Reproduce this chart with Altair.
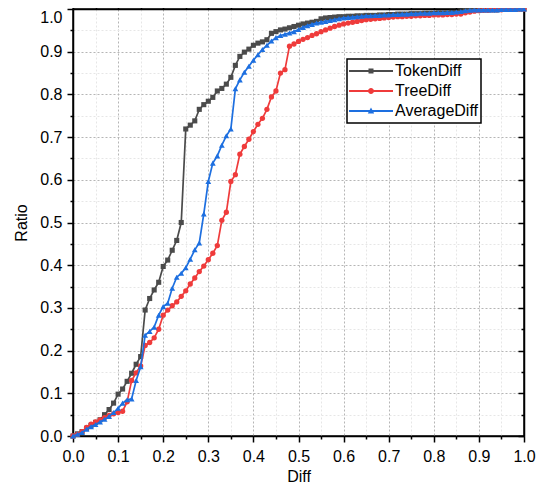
import altair as alt
import pandas as pd

diff = [0.00, 0.01, 0.02, 0.03, 0.04, 0.05, 0.06, 0.07, 0.08, 0.09,
        0.10, 0.11, 0.12, 0.13, 0.14, 0.15, 0.16, 0.17, 0.18, 0.19,
        0.20, 0.21, 0.22, 0.23, 0.24, 0.25, 0.26, 0.27, 0.28, 0.29,
        0.30, 0.31, 0.32, 0.33, 0.34, 0.35, 0.36, 0.37, 0.38, 0.39,
        0.40, 0.41, 0.42, 0.43, 0.44, 0.45, 0.46, 0.47, 0.48, 0.49,
        0.50, 0.51, 0.52, 0.53, 0.54, 0.55, 0.56, 0.57, 0.58, 0.59,
        0.60, 0.61, 0.62, 0.63, 0.64, 0.65, 0.66, 0.67, 0.68, 0.69,
        0.70, 0.71, 0.72, 0.73, 0.74, 0.75, 0.76, 0.77, 0.78, 0.79,
        0.80, 0.81, 0.82, 0.83, 0.84, 0.85, 0.86, 0.87, 0.88, 0.89,
        0.90, 0.91, 0.92, 0.93, 0.94, 0.95, 0.96, 0.97, 0.98, 0.99,
        1.00]

token = [0.000, 0.005, 0.010, 0.018, 0.025, 0.032, 0.038, 0.050, 0.062, 0.077,
         0.098, 0.110, 0.128, 0.147, 0.168, 0.186, 0.295, 0.322, 0.342, 0.360,
         0.397, 0.412, 0.435, 0.458, 0.500, 0.719, 0.728, 0.738, 0.765, 0.776,
         0.784, 0.793, 0.808, 0.814, 0.824, 0.840, 0.868, 0.889, 0.899, 0.906,
         0.915, 0.920, 0.923, 0.928, 0.943, 0.947, 0.951, 0.953, 0.956, 0.959,
         0.962, 0.965, 0.967, 0.969, 0.971, 0.977, 0.979, 0.980, 0.981, 0.982,
         0.982, 0.983, 0.983, 0.984, 0.984, 0.985, 0.985, 0.985, 0.986, 0.986,
         0.987, 0.987, 0.988, 0.988, 0.988, 0.989, 0.989, 0.989, 0.990, 0.990,
         0.990, 0.991, 0.991, 0.991, 0.992, 0.992, 0.993, 0.996, 0.997, 0.997,
         0.997, 0.998, 0.998, 0.998, 0.998, 0.999, 0.999, 0.999, 0.999, 1.000,
         1.000]

tree = [0.000, 0.004, 0.010, 0.020, 0.028, 0.033, 0.038, 0.043, 0.048, 0.052,
        0.055, 0.058, 0.080, 0.130, 0.148, 0.164, 0.212, 0.219, 0.230, 0.250,
        0.283, 0.295, 0.305, 0.314, 0.327, 0.340, 0.356, 0.370, 0.385, 0.398,
        0.413, 0.428, 0.446, 0.505, 0.524, 0.596, 0.612, 0.660, 0.678, 0.695,
        0.713, 0.730, 0.744, 0.765, 0.794, 0.808, 0.850, 0.858, 0.913, 0.918,
        0.924, 0.929, 0.933, 0.938, 0.942, 0.947, 0.951, 0.955, 0.959, 0.962,
        0.965, 0.967, 0.969, 0.971, 0.973, 0.975, 0.976, 0.977, 0.978, 0.979,
        0.980, 0.981, 0.982, 0.982, 0.983, 0.983, 0.984, 0.984, 0.985, 0.985,
        0.986, 0.986, 0.986, 0.987, 0.987, 0.988, 0.988, 0.991, 0.993, 0.995,
        0.996, 0.997, 0.997, 0.998, 0.998, 0.998, 0.999, 0.999, 0.999, 1.000,
        1.000]

average = [0.000, 0.004, 0.008, 0.016, 0.022, 0.027, 0.033, 0.039, 0.046, 0.055,
           0.065, 0.077, 0.085, 0.087, 0.130, 0.162, 0.236, 0.245, 0.255, 0.283,
           0.303, 0.311, 0.346, 0.372, 0.381, 0.394, 0.414, 0.436, 0.452, 0.520,
           0.596, 0.639, 0.656, 0.681, 0.703, 0.719, 0.813, 0.834, 0.852, 0.866,
           0.880, 0.893, 0.905, 0.915, 0.925, 0.933, 0.938, 0.941, 0.944, 0.947,
           0.952, 0.957, 0.961, 0.964, 0.967, 0.969, 0.971, 0.973, 0.975, 0.977,
           0.979, 0.980, 0.981, 0.982, 0.983, 0.984, 0.984, 0.985, 0.985, 0.986,
           0.986, 0.987, 0.987, 0.988, 0.988, 0.989, 0.989, 0.990, 0.990, 0.990,
           0.991, 0.991, 0.991, 0.992, 0.992, 0.993, 0.994, 0.996, 0.997, 0.998,
           0.998, 0.998, 0.998, 0.998, 0.998, 0.999, 0.999, 0.999, 0.999, 1.000,
           1.000]

names = ["TokenDiff", "TreeDiff", "AverageDiff"]
colors = ["#4b4b4b", "#ef3b3b", "#1d6fe0"]
shapes = ["square", "circle", "triangle-up"]
sizes = [26, 28, 34]
legend_paths = [
    "M-1,-0.04H1V0.04H-1Z M-0.114,-0.114H0.114V0.114H-0.114Z",
    "M-1,-0.04H1V0.04H-1Z M-0.136,0A0.136,0.136 0 1,1 0.136,0A0.136,0.136 0 1,1 -0.136,0Z",
    "M-1,-0.04H1V0.04H-1Z M0,-0.16L0.145,0.114H-0.145Z",
]

tick_values = [0.0, 0.05, 0.1, 0.15, 0.2, 0.25, 0.3, 0.35, 0.4, 0.45, 0.5,
               0.55, 0.6, 0.65, 0.7, 0.75, 0.8, 0.85, 0.9, 0.95, 1.0]

df = pd.DataFrame({
    "Diff": diff * 3,
    "Ratio": token + tree + average,
    "Series": [n for n in names for _ in diff],
})

FONT = "Liberation Sans"
major = "round(datum.value * 100) % 10 == 0"
tick_size = {"condition": {"test": major, "value": 6}, "value": 3}
grid_color = {"condition": {"test": major, "value": "#b5b5b5"}, "value": "#e6e6e6"}
label_expr = major + " ? format(datum.value, '.1f') : ''"
y_label_offset = {"condition": {"test": "datum.value > 0.99", "value": 8}, "value": 0}

x_scale = alt.Scale(domain=[0, 1], nice=False, zero=False)
y_scale = alt.Scale(domain=[0, 1], nice=False, zero=False)

common = dict(values=tick_values, tickSize=tick_size, tickWidth=1.5, tickColor="black",
              domainColor="black", domainWidth=1.5)

x_main = alt.Axis(title="Diff", labelExpr=label_expr, labelOverlap=False, labelFlush=False,
                  grid=True, gridColor=grid_color, gridDash=[2, 2], gridWidth=1,
                  labelFont=FONT, labelFontSize=16, labelColor="black", labelPadding=6,
                  titleFont=FONT, titleFontSize=16, titleFontWeight="normal",
                  titleColor="black", titlePadding=4, **common)
y_main = alt.Axis(title="Ratio", labelExpr=label_expr, labelOverlap=False, labelFlush=False,
                  labelOffset=y_label_offset,
                  grid=True, gridColor=grid_color, gridDash=[2, 2], gridWidth=1,
                  labelFont=FONT, labelFontSize=16, labelColor="black", labelPadding=5,
                  titleFont=FONT, titleFontSize=16, titleFontWeight="normal",
                  titleColor="black", titlePadding=10, **common)
x_top = alt.Axis(orient="top", title="", labels=False, grid=False, **common)
y_right = alt.Axis(orient="left", offset=-451, title="", labels=False, grid=False, **common)

layers = []
for i, (n, c, s, sz) in enumerate(zip(names, colors, shapes, sizes)):
    sub = alt.Chart(df).transform_filter(alt.datum.Series == n)
    line = sub.mark_line(strokeWidth=1.7, color=c).encode(
        x=alt.X("Diff:Q", scale=x_scale, axis=x_main if i == 0 else None),
        y=alt.Y("Ratio:Q", scale=y_scale, axis=y_main if i == 0 else None),
    )
    pts = sub.mark_point(shape=s, filled=True, size=sz, color=c, opacity=1).encode(
        x=alt.X("Diff:Q", scale=x_scale, axis=None),
        y=alt.Y("Ratio:Q", scale=y_scale, axis=None),
    )
    layers += [line, pts]

leg = alt.Legend(title=None, orient="none", legendX=274, legendY=50, padding=2,
                 strokeColor="black", fillColor="white", labelFont=FONT, labelFontSize=16,
                 labelColor="black", labelOffset=2, rowPadding=0, clipHeight=20,
                 symbolSize=1936, symbolStrokeWidth=0, symbolOpacity=1)

dummy = alt.Chart(df).mark_point(filled=True, opacity=0, size=1936).encode(
    x=alt.X("Diff:Q", scale=x_scale, axis=x_top),
    y=alt.Y("Ratio:Q", scale=y_scale, axis=y_right),
    color=alt.Color("Series:N", scale=alt.Scale(domain=names, range=colors), legend=leg),
    shape=alt.Shape("Series:N", scale=alt.Scale(domain=names, range=legend_paths), legend=leg),
)

chart = alt.layer(*layers, dummy).resolve_axis(
    x="independent", y="independent"
).properties(
    width=451, height=427,
    autosize=alt.AutoSizeParams(type="none"),
    padding={"left": 65, "top": 1, "right": 14, "bottom": 48},
).configure_view(stroke="black", strokeWidth=1.5).configure_legend(strokeWidth=1.5)

chart.save("out.html", embed_options={"renderer": "svg", "actions": False})
